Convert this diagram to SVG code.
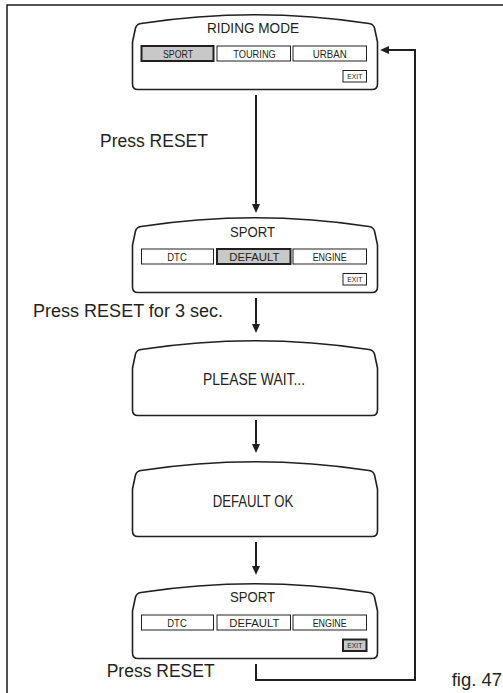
<svg xmlns="http://www.w3.org/2000/svg" xmlns:xlink="http://www.w3.org/1999/xlink" width="503" height="693" viewBox="0 0 503 693">
<style>
.frame{fill:none;stroke:#1a1a1a;stroke-width:1.5}
.scr{fill:#fff;stroke:#231f20;stroke-width:1.6;stroke-linejoin:round}
.btn{fill:#fff;stroke:#231f20;stroke-width:1}
.sel{fill:#c8c8c8;stroke:#231f20;stroke-width:2}
text{font-family:"Liberation Sans",Arial,sans-serif;fill:#231f20}
.tt{font-size:15.3px;text-anchor:middle}
.tm{font-size:16px;text-anchor:middle}
.tb{font-size:10.2px;text-anchor:middle}
.te{font-size:7.5px;text-anchor:middle}
.lbl{font-size:17.5px}
.conn{fill:none;stroke:#231f20;stroke-width:2}
</style>
<defs>
<path id="screen" class="scr" d="M141,23.5 Q255,6 369,23.5 Q373.5,24.2 374.5,28 L377.5,42 L377.5,84 Q377.5,89.5 372,89.5 L138,89.5 Q132.5,89.5 132.5,84 L132.5,42 L135.5,28 Q136.5,24.2 141,23.5 Z"/>
<marker id="ah" viewBox="0 0 9 8" markerWidth="9" markerHeight="8" refX="5" refY="4" orient="auto" markerUnits="userSpaceOnUse">
<path d="M0,0 L9,4 L0,8 Z" fill="#231f20"/>
</marker>
</defs>

<path class="frame" d="M7,693 V5 H503"/>

<g id="riding-mode">
<use xlink:href="#screen"/>
<text class="tt" x="253" y="33" textLength="92" lengthAdjust="spacingAndGlyphs">RIDING MODE</text>
<rect class="sel" x="141.5" y="46" width="72" height="15"/>
<rect class="btn" x="217" y="46" width="73.5" height="15"/>
<rect class="btn" x="293" y="46" width="73.5" height="15"/>
<text class="tb" x="178" y="57.5" textLength="30" lengthAdjust="spacingAndGlyphs">SPORT</text>
<text class="tb" x="254.5" y="57.5" textLength="42.7" lengthAdjust="spacingAndGlyphs">TOURING</text>
<text class="tb" x="329.7" y="57.5" textLength="34" lengthAdjust="spacingAndGlyphs">URBAN</text>
<rect class="btn" x="343" y="70.5" width="23.5" height="11.5"/>
<text class="te" x="354.8" y="79.3" textLength="15" lengthAdjust="spacingAndGlyphs">EXIT</text>
</g>

<g id="sport-default" transform="translate(0,203)">
<use xlink:href="#screen"/>
<text class="tt" x="252.5" y="34" textLength="45" lengthAdjust="spacingAndGlyphs">SPORT</text>
<rect class="btn" x="141.5" y="46" width="72" height="15"/>
<rect class="sel" x="217" y="46" width="73.5" height="15"/>
<rect class="btn" x="293" y="46" width="73.5" height="15"/>
<text class="tb" x="177" y="57.5" textLength="19.4" lengthAdjust="spacingAndGlyphs">DTC</text>
<text class="tb" x="254.3" y="57.5" textLength="50" lengthAdjust="spacingAndGlyphs">DEFAULT</text>
<text class="tb" x="329.7" y="57.5" textLength="34" lengthAdjust="spacingAndGlyphs">ENGINE</text>
<rect class="btn" x="343" y="70.5" width="23.5" height="11.5"/>
<text class="te" x="354.8" y="79.3" textLength="15" lengthAdjust="spacingAndGlyphs">EXIT</text>
</g>

<g id="please-wait" transform="translate(0,326)">
<use xlink:href="#screen"/>
<text class="tm" x="254" y="59" textLength="102" lengthAdjust="spacingAndGlyphs">PLEASE WAIT...</text>
</g>

<g id="default-ok" transform="translate(0,447)">
<use xlink:href="#screen"/>
<text class="tm" x="253" y="59.5" textLength="80.6" lengthAdjust="spacingAndGlyphs">DEFAULT OK</text>
</g>

<g id="sport-exit" transform="translate(0,569)">
<use xlink:href="#screen"/>
<text class="tt" x="252.5" y="33" textLength="45" lengthAdjust="spacingAndGlyphs">SPORT</text>
<rect class="btn" x="141.5" y="46" width="72" height="15"/>
<rect class="btn" x="217" y="46" width="73.5" height="15"/>
<rect class="btn" x="293" y="46" width="73.5" height="15"/>
<text class="tb" x="177" y="57.5" textLength="19.4" lengthAdjust="spacingAndGlyphs">DTC</text>
<text class="tb" x="254.3" y="57.5" textLength="50" lengthAdjust="spacingAndGlyphs">DEFAULT</text>
<text class="tb" x="329.7" y="57.5" textLength="34" lengthAdjust="spacingAndGlyphs">ENGINE</text>
<rect class="sel" x="343" y="70.5" width="23.5" height="11.5"/>
<text class="te" x="354.8" y="79.3" textLength="15" lengthAdjust="spacingAndGlyphs">EXIT</text>
</g>

<g id="connectors">
<path class="conn" d="M256,95 V209" marker-end="url(#ah)"/>
<path class="conn" d="M256,298 V329" marker-end="url(#ah)"/>
<path class="conn" d="M256,420 V449" marker-end="url(#ah)"/>
<path class="conn" d="M256,542 V571" marker-end="url(#ah)"/>
<path class="conn" d="M256,664 V680 H415 V50 H384" marker-end="url(#ah)"/>
</g>

<g id="labels">
<text class="lbl" x="100" y="146.7">Press RESET</text>
<text class="lbl" x="33" y="317.3" textLength="190" lengthAdjust="spacingAndGlyphs">Press RESET for 3 sec.</text>
<text class="lbl" x="106.7" y="676.7">Press RESET</text>
<text class="lbl" x="451.7" y="686" font-size="18.5" style="font-size:18.5px">fig. 47</text>
</g>
</svg>
